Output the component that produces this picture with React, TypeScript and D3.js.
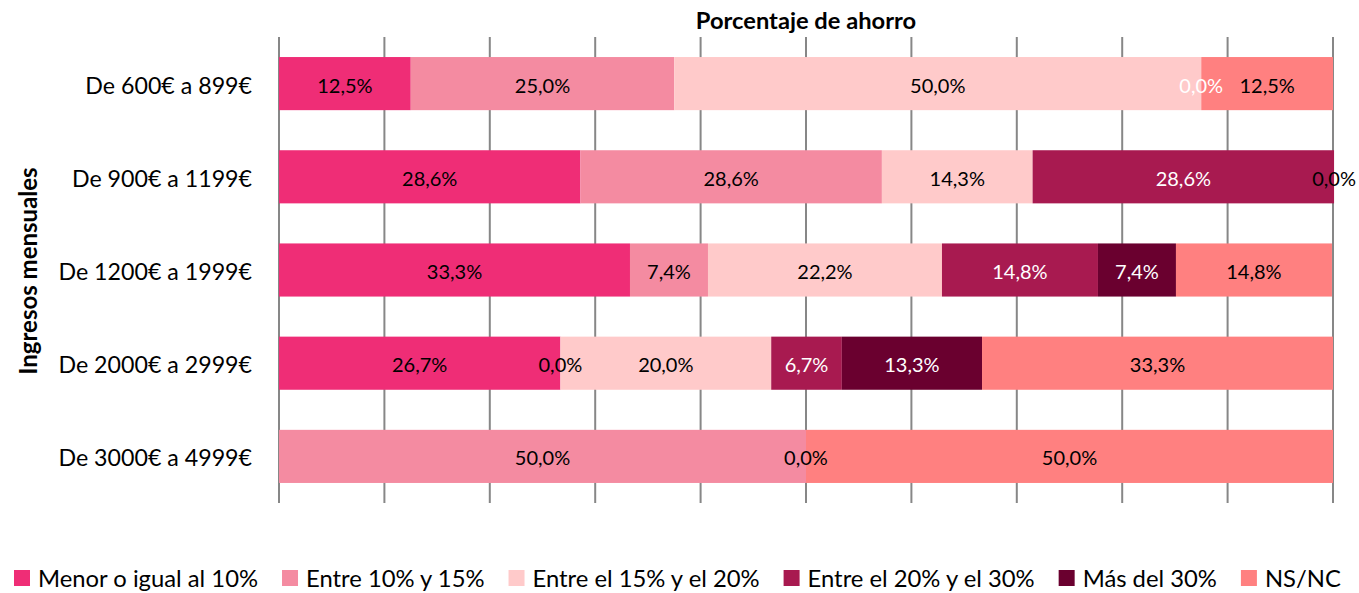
import { useEffect, useRef } from 'react';
import * as d3 from 'd3';

const categories = ['De 600€ a 899€', 'De 900€ a 1199€', 'De 1200€ a 1999€', 'De 2000€ a 2999€', 'De 3000€ a 4999€'];
const seriesNames = ['Menor o igual al 10%', 'Entre 10% y 15%', 'Entre el 15% y el 20%', 'Entre el 20% y el 30%', 'Más del 30%', 'NS/NC'];
const seriesColors = ['#EF2D76', '#F48BA1', '#FFCACA', '#A81A50', '#6A002F', '#FF8080'];
const labelColors = ['#000', '#000', '#000', '#fff', '#fff', '#000'];
// values per series, one per category (null = no segment)
const menor = [12.5, 28.6, 33.3, 26.7, null];
const entre10 = [25.0, 28.6, 7.4, 0.0, 50.0];
const entre15 = [50.0, 14.3, 22.2, 20.0, 0.0];
const entre20 = [0.0, 28.6, 14.8, 6.7, null];
const mas30 = [null, null, 7.4, 13.3, null];
const nsnc = [12.5, 0.0, 14.8, 33.3, 50.0];
const seriesValues = [menor, entre10, entre15, entre20, mas30, nsnc];
const xTicks = [0, 10, 20, 30, 40, 50, 60, 70, 80, 90, 100];

const FONT = 'Lato, sans-serif';

export default function App() {
  const svgRef = useRef<SVGSVGElement>(null);
  const width = 1359;
  const height = 593;

  useEffect(() => {
    document.body.style.margin = '0';
    const svg = d3.select(svgRef.current);
    svg.selectAll('*').remove();

    const x = d3.scaleLinear().domain([0, 100]).range([279, 1333]);
    const y = d3.scaleBand<string>().domain(categories).range([37, 503])
      .paddingInner(0.43).paddingOuter(0.215);

    // gridlines
    svg.append('g').selectAll('line')
      .data(xTicks)
      .join('line')
      .attr('x1', d => x(d)).attr('x2', d => x(d))
      .attr('y1', 37).attr('y2', 503)
      .attr('stroke', '#878787')
      .attr('stroke-width', 2);

    // stacked segments
    const segs: { cat: string; s: number; x0: number; x1: number; v: number }[] = [];
    categories.forEach((cat, ci) => {
      let acc = 0;
      seriesValues.forEach((vals, si) => {
        const v = vals[ci];
        if (v === null) return;
        segs.push({ cat, s: si, x0: acc, x1: acc + v, v });
        acc += v;
      });
    });

    svg.append('g').selectAll('rect')
      .data(segs.filter(d => d.v > 0))
      .join('rect')
      .attr('x', d => x(d.x0))
      .attr('y', d => y(d.cat)!)
      .attr('width', d => x(d.x1) - x(d.x0))
      .attr('height', y.bandwidth())
      .attr('fill', d => seriesColors[d.s]);

    svg.append('g').selectAll('text')
      .data(segs)
      .join('text')
      .attr('x', d => (x(d.x0) + x(d.x1)) / 2)
      .attr('y', d => y(d.cat)! + y.bandwidth() / 2 + 1)
      .attr('text-anchor', 'middle')
      .attr('dominant-baseline', 'central')
      .attr('fill', d => labelColors[d.s])
      .style('font-family', FONT)
      .style('font-size', '20px')
      .text(d => d.v.toFixed(1).replace('.', ',') + '%');

    // category labels
    svg.append('g').selectAll('text')
      .data(categories)
      .join('text')
      .attr('x', 252)
      .attr('y', d => y(d)! + y.bandwidth() / 2 + 1)
      .attr('text-anchor', 'end')
      .attr('dominant-baseline', 'central')
      .style('font-family', FONT)
      .style('font-size', '23.2px')
      .text(d => d);

    // titles
    svg.append('text')
      .attr('x', (x(0) + x(100)) / 2)
      .attr('y', 20)
      .attr('text-anchor', 'middle')
      .attr('dominant-baseline', 'central')
      .style('font-family', FONT)
      .style('font-size', '23.7px')
      .style('font-weight', '700')
      .text('Porcentaje de ahorro');

    svg.append('text')
      .attr('transform', `translate(27,271) rotate(-90)`)
      .attr('text-anchor', 'middle')
      .attr('dominant-baseline', 'central')
      .style('font-family', FONT)
      .style('font-size', '24px')
      .style('font-weight', '700')
      .text('Ingresos mensuales');

    // legend
    const legend = svg.append('g');
    let lx = 14;
    seriesNames.forEach((name, i) => {
      legend.append('rect')
        .attr('x', lx).attr('y', 570)
        .attr('width', 16).attr('height', 16)
        .attr('fill', seriesColors[i]);
      const t = legend.append('text')
        .attr('x', lx + 24)
        .attr('y', 578)
        .attr('dominant-baseline', 'central')
        .style('font-family', FONT)
        .style('font-size', '23.8px')
        .text(name);
      const w = (t.node() as SVGTextElement).getComputedTextLength();
      lx += 24 + w + 24;
    });
  }, []);

  return <svg ref={svgRef} width={width} height={height} style={{ display: 'block' }} />;
}
